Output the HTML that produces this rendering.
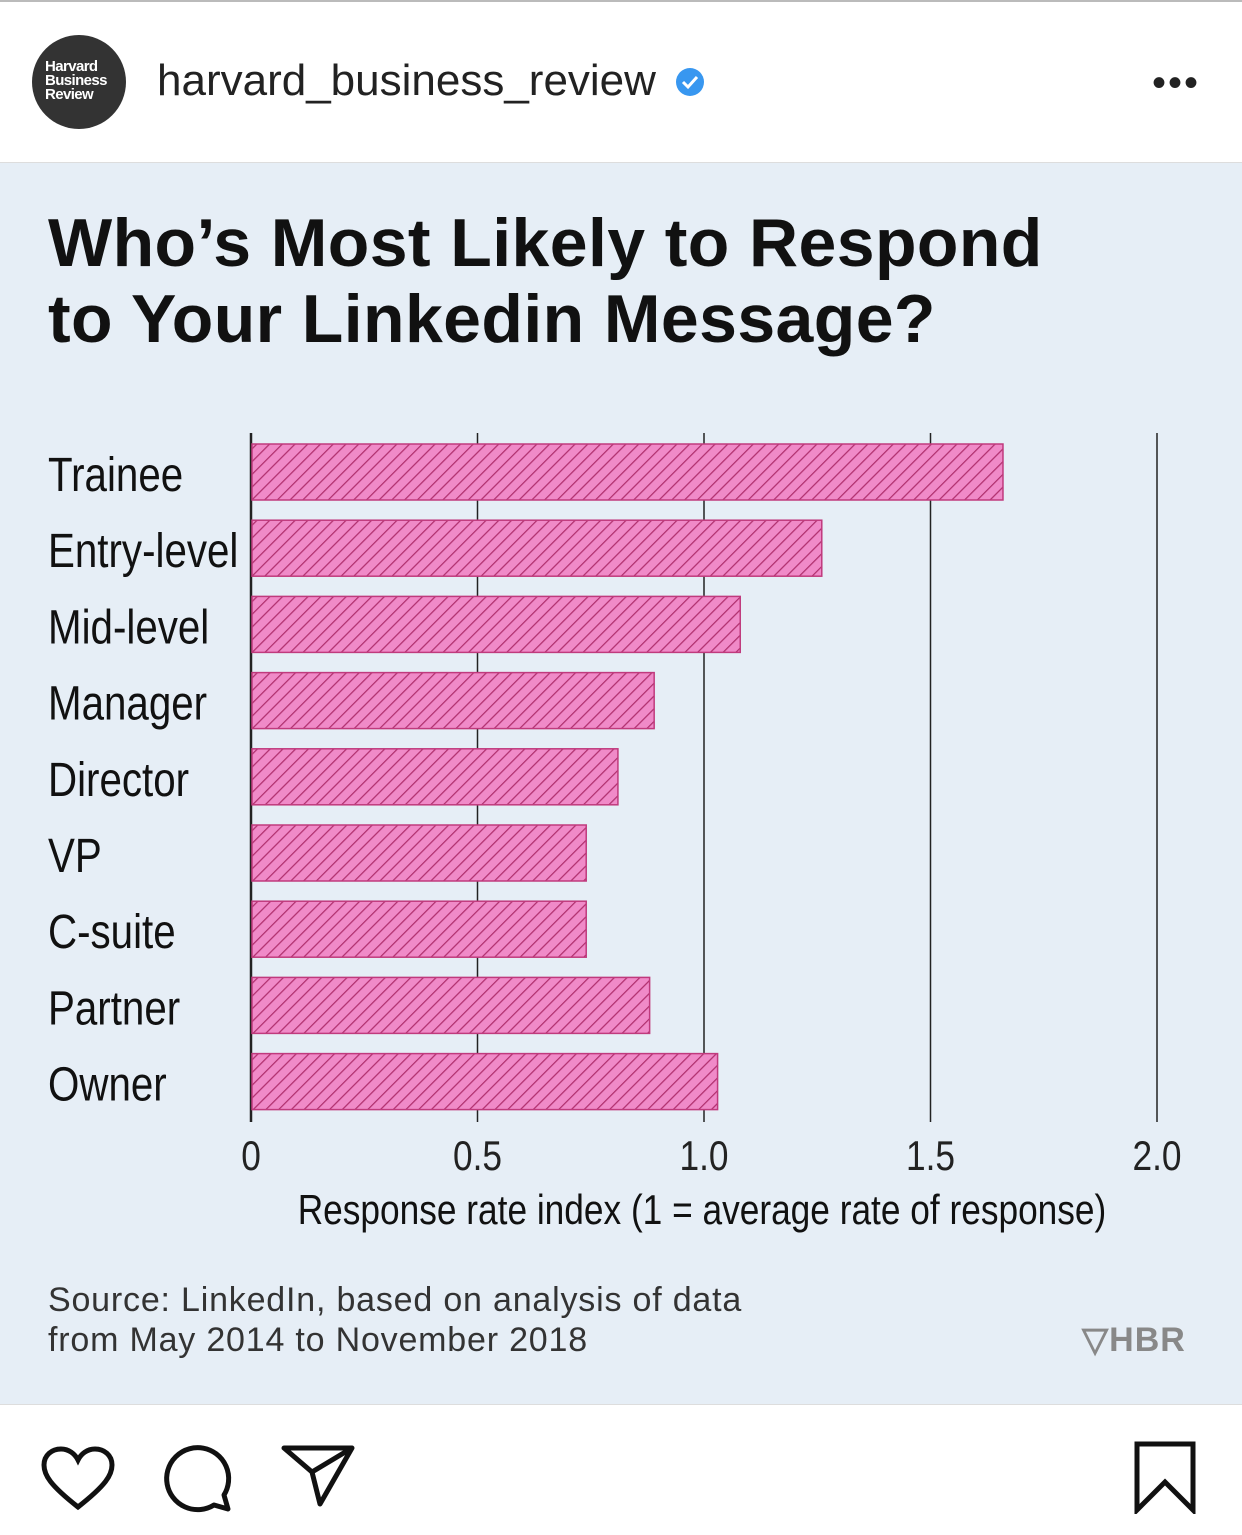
<!DOCTYPE html>
<html><head><meta charset="utf-8"><style>
body{margin:0;width:1242px;height:1535px;background:#fff;position:relative;overflow:hidden;font-family:"Liberation Sans",sans-serif}
.abs{position:absolute}
</style></head><body>
<div class="abs" style="left:0;top:0;width:1242px;height:2px;background:#bbb"></div>
<div class="abs" style="left:32px;top:35px;width:94px;height:94px;border-radius:50%;background:#333;color:#fff;font-weight:bold;font-size:15px;line-height:14px;padding:25px 0 0 13px;box-sizing:border-box;letter-spacing:-0.6px">Harvard<br>Business<br>Review</div>
<div class="abs" style="left:157px;top:56px;font-size:44px;color:#222">harvard_business_review</div>
<svg class="abs" style="left:674px;top:66px" width="32" height="32" viewBox="0 0 32 32"><circle cx="16" cy="16" r="14" fill="#3897f0"/><path d="M9 16l5 5 9-10" stroke="#fff" stroke-width="3" fill="none"/></svg>
<div class="abs" style="left:1152px;top:61px;font-size:40px;color:#222;letter-spacing:2px">•••</div>
<div class="abs" style="left:0;top:162px;width:1242px;height:1242px;background:#e6eef6;border-top:1px solid #ddd"></div>
<div class="abs" style="left:48px;top:205px;font-size:68px;font-weight:bold;line-height:76px;color:#111;letter-spacing:0.4px">Who’s Most Likely to Respond<br>to Your Linkedin Message?</div>
<svg id="chart" class="abs" style="left:0;top:0" width="1242" height="1535">
<defs><pattern id="hatch" width="9" height="9" patternUnits="userSpaceOnUse" patternTransform="rotate(45)"><rect width="9" height="9" fill="#f08ac8"/><line x1="0" y1="0" x2="0" y2="9" stroke="#b0306e" stroke-width="2.5"/></pattern></defs>
</svg>
<div class="abs" style="left:48px;top:1280px;font-size:34px;line-height:40px;color:#333;letter-spacing:0.8px">Source: LinkedIn, based on analysis of data<br>from May 2014 to November 2018</div>
<div class="abs" style="left:1082px;top:1320px;font-size:34px;font-weight:bold;color:#888;letter-spacing:1px">▽HBR</div>
<div class="abs" style="left:0;top:1404px;width:1242px;height:1px;background:#ddd"></div>
<svg class="abs" style="left:40px;top:1445px" width="76" height="66" viewBox="0 0 76 66"><path d="M38 62 C10 40 4 30 4 20 C4 10 12 4 21 4 C29 4 35 9 38 15 C41 9 47 4 55 4 C64 4 72 10 72 20 C72 30 66 40 38 62Z" fill="none" stroke="#111" stroke-width="5"/></svg>
<svg class="abs" style="left:162px;top:1443px" width="72" height="70" viewBox="0 0 72 70"><path d="M62 52 A31 31 0 1 0 52 62 L66 66 Z" fill="none" stroke="#111" stroke-width="5" stroke-linejoin="round"/></svg>
<svg class="abs" style="left:280px;top:1442px" width="76" height="66" viewBox="0 0 76 66"><path d="M4 6 L72 6 L40 62 L32 30 Z M32 30 L72 6" fill="none" stroke="#111" stroke-width="5" stroke-linejoin="round"/></svg>
<svg class="abs" style="left:1132px;top:1440px" width="66" height="74" viewBox="0 0 66 74"><path d="M5 4 H61 V70 L33 42 L5 70 Z" fill="none" stroke="#111" stroke-width="5" stroke-linejoin="miter"/></svg>
<script>
const categories=["Trainee","Entry-level","Mid-level","Manager","Director","VP","C-suite","Partner","Owner"];
const values=[1.66,1.26,1.08,0.89,0.81,0.74,0.74,0.88,1.03];
const ticks=[0,0.5,1.0,1.5,2.0];
const tickLabels=["0","0.5","1.0","1.5","2.0"];
const ns="http://www.w3.org/2000/svg";
const svg=document.getElementById('chart');
const x=v=>251+v*453;
const yc=i=>472+i*76.2;
const SX=0.84;
function mk(t,a){const e=document.createElementNS(ns,t);for(const k in a)e.setAttribute(k,a[k]);svg.appendChild(e);return e;}
ticks.forEach((t,i)=>{
  const l=mk('line',{x1:x(t),x2:x(t),y1:433,y2:1122,stroke:'#222','stroke-width':i==0?2.5:1.5});
  
  
  const tx=mk('text',{x:x(t)/SX,y:1170,'text-anchor':'middle','font-size':42,fill:'#222',transform:'scale('+SX+',1)'});
  tx.textContent=tickLabels[i];
  
  
});
categories.forEach((c,i)=>{
  const r=mk('rect',{x:x(0)+1,y:yc(i)-28,width:x(values[i])-x(0)-1,height:56,fill:'url(#hatch)',stroke:'#c03a7d','stroke-width':1.5});
  
  
  const t=mk('text',{x:48/SX,y:yc(i)+19,'font-size':48,fill:'#111',transform:'scale('+SX+',1)'});
  t.textContent=c;
  
  
});
const at=mk('text',{x:702/SX,y:1224,'text-anchor':'middle','font-size':42,fill:'#111',transform:'scale('+SX+',1)'});
at.textContent="Response rate index (1 = average rate of response)";


</script>
</body></html>
